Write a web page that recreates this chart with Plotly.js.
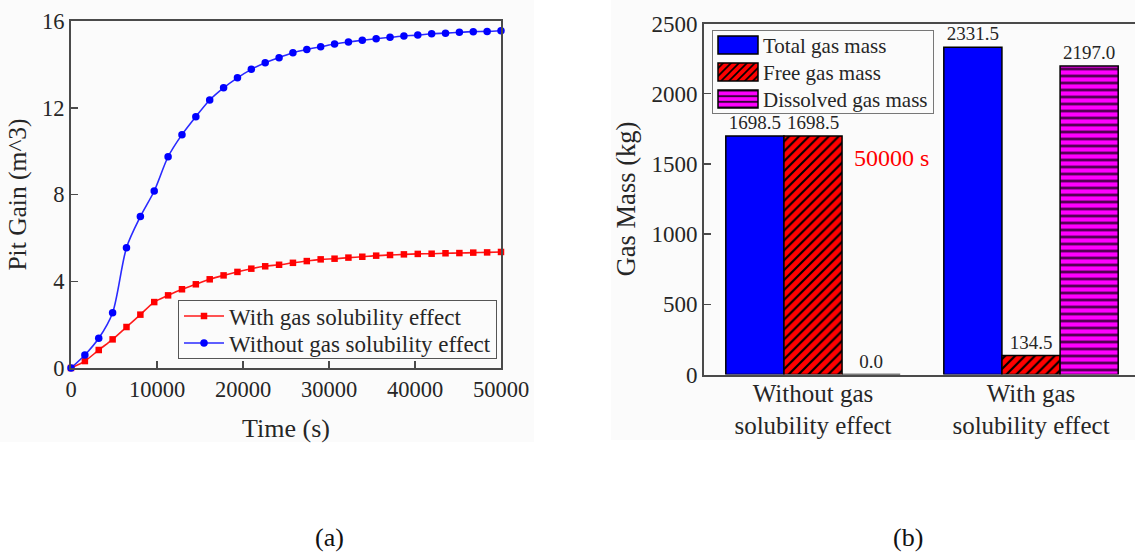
<!DOCTYPE html>
<html>
<head>
<meta charset="utf-8">
<script src="https://cdn.plot.ly/plotly-3.0.1.min.js"></script>
<style>
  html, body { margin: 0; padding: 0; background: #ffffff; }
  #chart { width: 1135px; height: 552px; }
</style>
</head>
<body>
<div id="chart"></div>
<script>
// (a) pit gain history, sampled along the simulation time
const timeSec = [0, 1613, 3226, 4839, 6452, 8065, 9677, 11290, 12903, 14516,
  16129, 17742, 19355, 20968, 22581, 24194, 25806, 27419, 29032, 30645,
  32258, 33871, 35484, 37097, 38710, 40323, 41935, 43548, 45161, 46774,
  48387, 50000];
const pitGainWith = [0, 0.32, 0.83, 1.32, 1.89, 2.46, 3.04, 3.35, 3.63, 3.86,
  4.09, 4.27, 4.43, 4.58, 4.69, 4.76, 4.85, 4.93, 5.01, 5.04,
  5.09, 5.13, 5.18, 5.21, 5.24, 5.26, 5.27, 5.29, 5.30, 5.32,
  5.33, 5.35];
const pitGainWithout = [0, 0.60, 1.37, 2.55, 5.55, 6.98, 8.16, 9.74, 10.76, 11.59,
  12.36, 12.92, 13.38, 13.77, 14.08, 14.31, 14.54, 14.69, 14.81, 14.94,
  15.03, 15.11, 15.18, 15.25, 15.31, 15.35, 15.41, 15.44, 15.48, 15.51,
  15.52, 15.55];
const lineNames = ['With gas solubility effect', 'Without gas solubility effect'];

// (b) gas mass at 50000 s
const caseLabels = ['Without gas<br>solubility effect', 'With gas<br>solubility effect'];
const totalGasMass = [1698.5, 2331.5];
const freeGasMass = [1698.5, 134.5];
const dissolvedGasMass = [0.0, 2197.0];
const barNames = ['Total gas mass', 'Free gas mass', 'Dissolved gas mass'];

const serif = 'Liberation Serif, Times New Roman, serif';
const axisGrey = '#4a4a4a';
const textColor = '#262626';

const traces = [
  {
    x: timeSec, y: pitGainWith, name: lineNames[0],
    type: 'scatter', mode: 'lines+markers',
    line: { color: '#ff1a1a', width: 1.6, shape: 'spline', smoothing: 0.8 },
    marker: { symbol: 'square', size: 6.5, color: '#ff0000' },
    xaxis: 'x', yaxis: 'y', legend: 'legend', cliponaxis: false
  },
  {
    x: timeSec, y: pitGainWithout, name: lineNames[1],
    type: 'scatter', mode: 'lines+markers',
    line: { color: '#2a2aff', width: 1.6, shape: 'spline', smoothing: 0.8 },
    marker: { symbol: 'circle', size: 7.5, color: '#0000ff' },
    xaxis: 'x', yaxis: 'y', legend: 'legend', cliponaxis: false
  },
  {
    x: caseLabels, y: totalGasMass, name: barNames[0], type: 'bar',
    marker: { color: '#0000ff', line: { color: '#000000', width: 1.5 } },
    texttemplate: '%{y:.1f}', textposition: 'outside', constraintext: 'none',
    textfont: { family: serif, size: 19, color: textColor },
    xaxis: 'x2', yaxis: 'y2', legend: 'legend2', cliponaxis: false
  },
  {
    x: caseLabels, y: freeGasMass, name: barNames[1], type: 'bar',
    marker: {
      color: '#ff0000', line: { color: '#000000', width: 1.5 },
      pattern: { shape: '/', fgcolor: '#000000', bgcolor: '#ff0000', size: 7, solidity: 0.3 }
    },
    texttemplate: '%{y:.1f}', textposition: 'outside', constraintext: 'none',
    textfont: { family: serif, size: 19, color: textColor },
    xaxis: 'x2', yaxis: 'y2', legend: 'legend2', cliponaxis: false
  },
  {
    x: caseLabels, y: dissolvedGasMass, name: barNames[2], type: 'bar',
    marker: {
      color: '#ff00ff', line: { color: '#000000', width: 1.5 },
      pattern: { shape: '-', fgcolor: '#3a003a', bgcolor: '#ff00ff', size: 7, solidity: 0.35 }
    },
    texttemplate: '%{y:.1f}', textposition: 'outside', constraintext: 'none',
    textfont: { family: serif, size: 19, color: textColor },
    xaxis: 'x2', yaxis: 'y2', legend: 'legend2', cliponaxis: false
  }
];

const W = 1135, H = 552;
const px = v => v / W;
const py = v => 1 - v / H;

const baseAxis = {
  showline: true, linecolor: axisGrey, linewidth: 2,
  showgrid: false, zeroline: false,
  ticks: 'inside', ticklen: 7, tickwidth: 1.5, tickcolor: axisGrey,
  tickfont: { family: serif, size: 22.5, color: textColor },
  tickformat: 'd', separatethousands: false,
  automargin: false
};

const layout = {
  width: W, height: H,
  margin: { l: 0, r: 0, t: 0, b: 0 },
  paper_bgcolor: '#ffffff',
  plot_bgcolor: 'rgba(0,0,0,0)',
  font: { family: serif, color: textColor },
  showlegend: true,
  barmode: 'group', bargap: 0.2, bargroupgap: 0,
  xaxis: Object.assign({}, baseAxis, {
    domain: [px(71), px(501)], anchor: 'y',
    range: [0, 50000], dtick: 10000, tick0: 0, mirror: true,
    title: { text: 'Time (s)', font: { family: serif, size: 26, color: textColor }, standoff: 18 }
  }),
  yaxis: Object.assign({}, baseAxis, {
    domain: [py(368), py(21)], anchor: 'x',
    range: [0, 16], dtick: 4, tick0: 0, mirror: true,
    title: { text: 'Pit Gain (m^3)', font: { family: serif, size: 25.5, color: textColor }, standoff: 8 }
  }),
  xaxis2: Object.assign({}, baseAxis, {
    domain: [px(704), 1], anchor: 'y2', type: 'category',
    range: [-0.5, 1.477], ticks: '', mirror: true,
    ticklabelstandoff: -5,
    tickfont: { family: serif, size: 25, color: textColor }
  }),
  yaxis2: Object.assign({}, baseAxis, {
    domain: [py(374.5), py(23.5)], anchor: 'x2',
    range: [0, 2500], dtick: 500, tick0: 0, mirror: false,
    tickfont: { family: serif, size: 23, color: textColor },
    title: { text: 'Gas Mass (kg)', font: { family: serif, size: 26.5, color: textColor }, standoff: 8 }
  }),
  legend: {
    x: px(178), y: py(300), xanchor: 'left', yanchor: 'top',
    bgcolor: 'rgba(255,255,255,0)', bordercolor: '#555555', borderwidth: 1,
    font: { family: serif, size: 23, color: textColor },
    itemwidth: 40, tracegroupgap: 0
  },
  legend2: {
    x: px(712), y: py(30), xanchor: 'left', yanchor: 'top',
    bgcolor: 'rgba(255,255,255,0)', bordercolor: '#777777', borderwidth: 1,
    font: { family: serif, size: 21, color: textColor },
    itemwidth: 40, tracegroupgap: 0
  },
  shapes: [
    { type: 'rect', xref: 'paper', yref: 'paper', layer: 'below',
      x0: 0, x1: px(534), y0: py(442), y1: 1,
      fillcolor: '#fbfbfb', line: { width: 0 } },
    { type: 'rect', xref: 'paper', yref: 'paper', layer: 'below',
      x0: px(611), x1: 1, y0: py(440), y1: 1,
      fillcolor: '#fbfbfb', line: { width: 0 } }
  ],
  annotations: [
    { text: '50000 s', xref: 'paper', yref: 'paper', x: px(891), y: py(158),
      xanchor: 'center', yanchor: 'middle',
      showarrow: false, font: { family: serif, size: 24, color: '#ff0000' } },
    { text: '(a)', xref: 'paper', yref: 'paper', x: px(329), y: py(537),
      xanchor: 'center', yanchor: 'middle',
      showarrow: false, font: { family: serif, size: 26, color: '#111111' } },
    { text: '(b)', xref: 'paper', yref: 'paper', x: px(908), y: py(537),
      xanchor: 'center', yanchor: 'middle',
      showarrow: false, font: { family: serif, size: 26, color: '#111111' } }
  ]
};

// Pack legend rows closer together than Plotly's default line height
function packLegend(selector, top, step, bottom) {
  const lg = gd.querySelector(selector);
  if (!lg) return;
  const items = lg.querySelectorAll('g.traces');
  items.forEach((t, i) => {
    const m = /translate\(\s*([-\d.eE]+)[ ,]+([-\d.eE]+)\s*\)/.exec(t.getAttribute('transform') || '');
    const x = m ? parseFloat(m[1]) : 0;
    t.setAttribute('transform', 'translate(' + x + ',' + (top + i * step) + ')');
  });
  const bg = lg.querySelector('rect.bg');
  if (bg) bg.setAttribute('height', top + (items.length - 1) * step + bottom);
}

const gd = document.getElementById('chart');
Plotly.newPlot(gd, traces, layout, { staticPlot: true, displayModeBar: false }).then(() => {
  // wider rectangular swatches for the bar legend
  gd.querySelectorAll('g.legend2 g.legendpoints path').forEach(p => {
    p.setAttribute('d', 'M20,9H-20V-9H20Z');
  });
  packLegend('g.legend', 16, 27, 15);
  packLegend('g.legend2', 15, 27, 14);
});
</script>
</body>
</html>
